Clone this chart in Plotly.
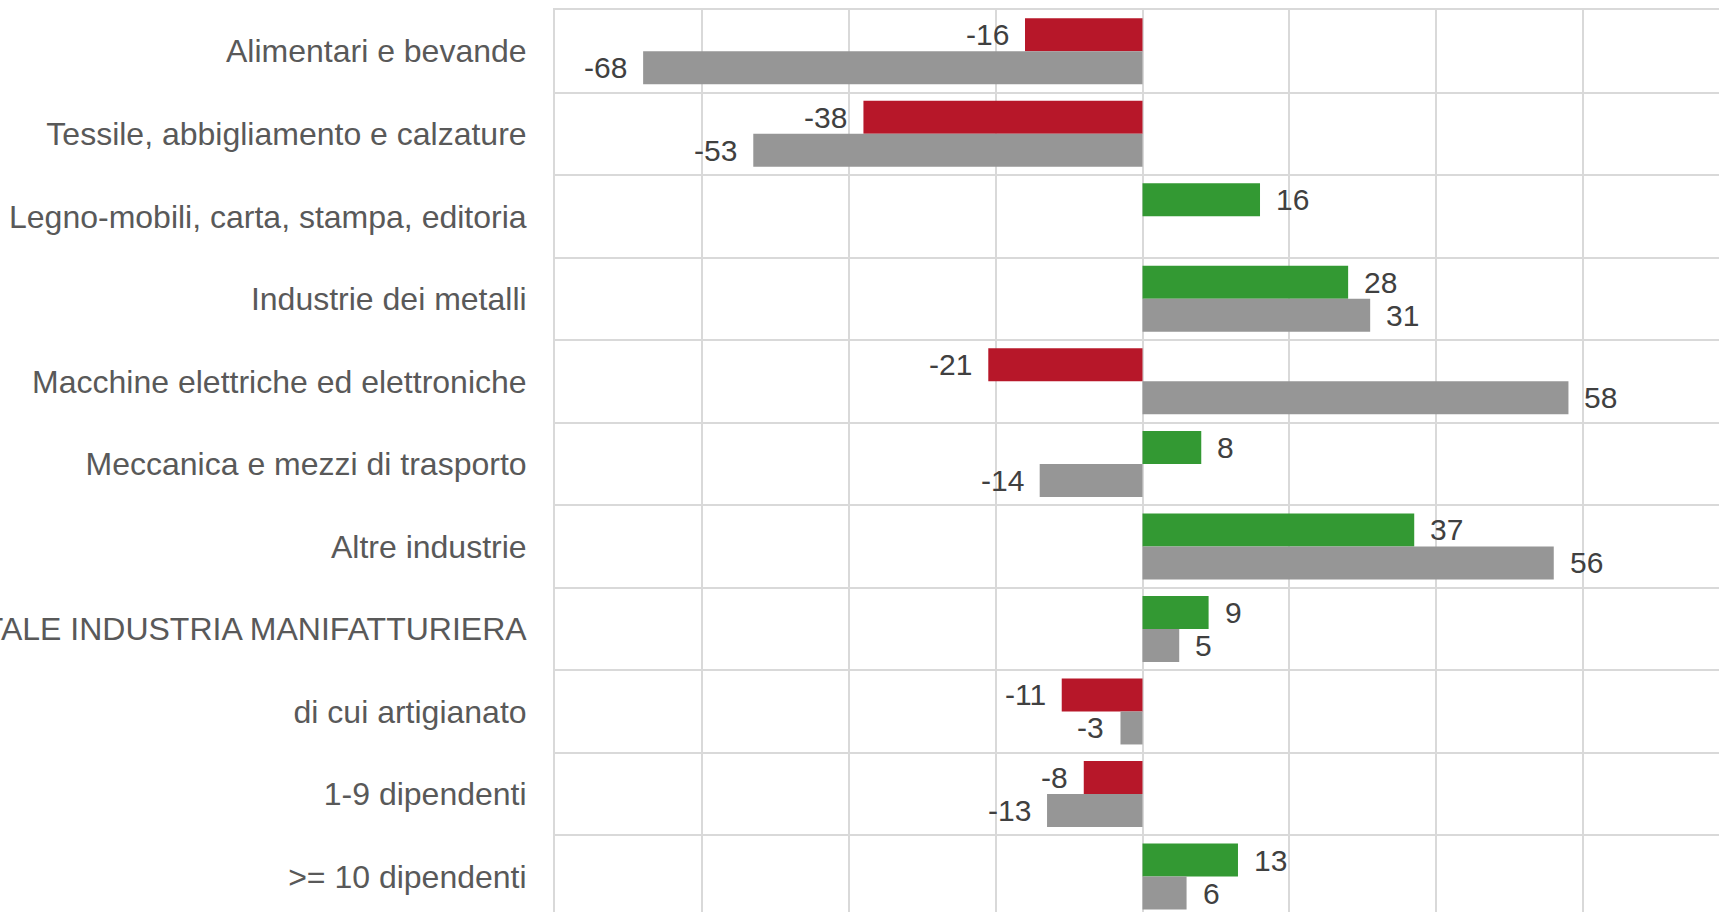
import plotly.graph_objects as go

# Settori e classi dimensionali
categories = [
    "Alimentari e bevande",
    "Tessile, abbigliamento e calzature",
    "Legno-mobili, carta, stampa, editoria",
    "Industrie dei metalli",
    "Macchine elettriche ed elettroniche",
    "Meccanica e mezzi di trasporto",
    "Altre industrie",
    "TOTALE INDUSTRIA MANIFATTURIERA",
    "di cui artigianato",
    "1-9 dipendenti",
    ">= 10 dipendenti",
]

# Prima serie (rosso se negativa, verde se positiva)
serie_a = [-16, -38, 16, 28, -21, 8, 37, 9, -11, -8, 13]
# Seconda serie (grigio); nessun valore per Legno-mobili
serie_b = [-68, -53, None, 31, 58, -14, 56, 5, -3, -13, 6]

RED = "#B71729"
GREEN = "#339933"
GREY = "#969696"
GRID = "#D9D9D9"
LABEL_COLOR = "#404040"
FONT = "Liberation Sans, Arial, sans-serif"

colors_a = [GREEN if v >= 0 else RED for v in serie_a]

fig = go.Figure()
fig.add_trace(go.Bar(
    y=categories, x=serie_a, orientation="h",
    marker=dict(color=colors_a, line=dict(width=0)),
    showlegend=False, hoverinfo="x+y",
))
fig.add_trace(go.Bar(
    y=categories, x=serie_b, orientation="h",
    marker=dict(color=GREY, line=dict(width=0)),
    showlegend=False, hoverinfo="x+y",
))

# Etichette dei valori accanto all'estremità di ciascuna barra
annotations = []
for offset, values in ((-0.2, serie_a), (0.2, serie_b)):
    for i, v in enumerate(values):
        if v is None:
            continue
        annotations.append(dict(
            x=v, y=i + offset, xref="x", yref="y",
            text=str(v), showarrow=False,
            xanchor="left" if v >= 0 else "right",
            xshift=14 if v >= 0 else -14,
            yanchor="middle",
            font=dict(family=FONT, size=30, color=LABEL_COLOR),
        ))

fig.update_layout(
    width=1719, height=912,
    margin=dict(l=555, r=0, t=10, b=0, autoexpand=False),
    paper_bgcolor="white", plot_bgcolor="white",
    barmode="group", bargap=0.2, bargroupgap=0,
    annotations=annotations,
    font=dict(family=FONT),
)
fig.update_xaxes(
    range=[-80, 78.5], tick0=0, dtick=20,
    showgrid=True, gridcolor=GRID, gridwidth=2,
    zeroline=False, showticklabels=False, ticks="",
    showline=True, mirror=True, linecolor=GRID, linewidth=2,
)
fig.update_yaxes(
    type="category", categoryorder="array", categoryarray=categories,
    range=[10.43, -0.5], tickson="boundaries",
    showgrid=True, gridcolor=GRID, gridwidth=2,
    ticks="", ticklabelstandoff=20, automargin=False,
    tickfont=dict(family=FONT, size=32, color="#595959"),
    showline=True, linecolor=GRID, linewidth=2, zeroline=False,
)

fig.write_html("out.html")
